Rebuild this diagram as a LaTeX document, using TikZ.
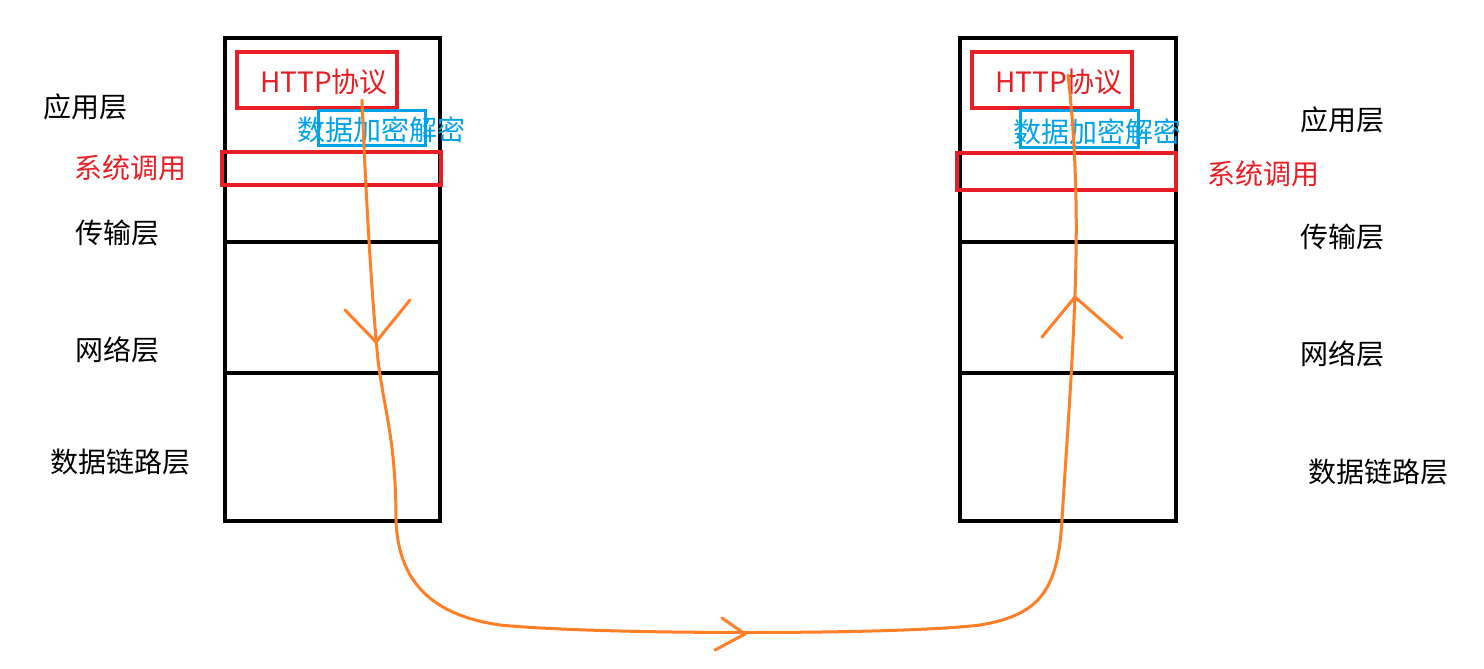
\documentclass[tikz,border=0pt]{standalone}
\usepackage{fontspec}
\setmainfont{Noto Sans CJK SC}
\begin{document}
\begin{tikzpicture}[x=1pt,y=-1pt,
  blk/.style={draw=black,line width=4pt},
  redbox/.style={draw={rgb,255:red,232;green,30;blue,36},line width=3.5pt},
  bluebox/.style={draw={rgb,255:red,0;green,162;blue,232},line width=3pt},
  lbl/.style={font=\fontsize{28}{30}\selectfont,inner sep=0pt},
  redt/.style={lbl,text={rgb,255:red,232;green,30;blue,36}},
  bluet/.style={lbl,text={rgb,255:red,0;green,162;blue,232}},
  orange/.style={draw={rgb,255:red,255;green,127;blue,39},line width=3pt,line cap=round,line join=round}]
\useasboundingbox[fill=white] (0,0) rectangle (1484,669);
% left stack
\draw[blk] (225,38) rectangle (440,521);
\draw[blk] (225,242) -- (440,242);
\draw[blk] (225,373) -- (440,373);
% right stack
\draw[blk] (960,38) rectangle (1176,521);
\draw[blk] (960,242) -- (1176,242);
\draw[blk] (960,373) -- (1176,373);
% red boxes
\draw[redbox] (237,52) rectangle (397,108);
\draw[redbox] (222,152) rectangle (441,185);
\draw[redbox] (972,52) rectangle (1132,108);
\draw[redbox] (957,153) rectangle (1176,190);
\draw[bluebox] (318,110) rectangle (425,145);
\draw[bluebox] (1020,110) rectangle (1138,147);
% texts
\node[redt] (h1) at (324,82) {HTTP协议};
\node[redt] (h2) at (1059,82) {HTTP协议};
\node[bluet] (e1) at (381,130) {数据加密解密};
\node[bluet] (e2) at (1097,132) {数据加密解密};
\node[lbl] (a1) at (85,107) {应用层};
\node[redt] (s1) at (130,168) {系统调用};
\node[lbl] (t1) at (117,233) {传输层};
\node[lbl] (n1) at (117,350) {网络层};
\node[lbl] (d1) at (120,462) {数据链路层};
\node[lbl] (a2) at (1342,120) {应用层};
\node[redt] (s2) at (1263,174) {系统调用};
\node[lbl] (t2) at (1342,237) {传输层};
\node[lbl] (n2) at (1342,354) {网络层};
\node[lbl] (d2) at (1378,472) {数据链路层};
% orange path
\draw[orange] (362,100) .. controls (366,200) and (372,300) .. (378,360)
  .. controls (384,410) and (396,440) .. (396,520)
  .. controls (398,580) and (430,615) .. (500,625)
  .. controls (600,635) and (900,635) .. (980,625)
  .. controls (1040,615) and (1058,590) .. (1062,520)
  .. controls (1068,420) and (1078,300) .. (1076,200)
  .. controls (1075,150) and (1072,110) .. (1068,75);
\draw[orange] (345,310) -- (376,342) -- (410,300);
\draw[orange] (1042,337) -- (1075,297) -- (1122,338);
\draw[orange] (722,618) -- (745,634) -- (715,650);
\end{tikzpicture}
\end{document}
